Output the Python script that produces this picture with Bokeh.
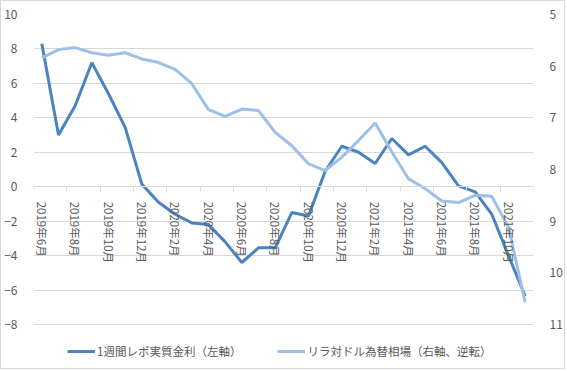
from bokeh.plotting import figure
from bokeh.models import Range1d, LinearAxis, FixedTicker, Legend, LegendItem, ColumnDataSource
from bokeh.embed import file_html
from bokeh.resources import INLINE

months = ["2019年6月", "2019年7月", "2019年8月", "2019年9月", "2019年10月", "2019年11月",
          "2019年12月", "2020年1月", "2020年2月", "2020年3月", "2020年4月", "2020年5月",
          "2020年6月", "2020年7月", "2020年8月", "2020年9月", "2020年10月", "2020年11月",
          "2020年12月", "2021年1月", "2021年2月", "2021年3月", "2021年4月", "2021年5月",
          "2021年6月", "2021年7月", "2021年8月", "2021年9月", "2021年10月", "2021年11月"]
repo_real = [8.3, 3.0, 4.7, 7.2, 5.4, 3.45, 0.15, -0.9, -1.6, -2.1, -2.2, -3.2, -4.4, -3.55, -3.55,
             -1.5, -1.7, 0.9, 2.35, 2.0, 1.35, 2.8, 1.85, 2.35, 1.4, 0.05, -0.3, -1.6, -4.0, -6.35]
lira_usd = [5.84, 5.68, 5.64, 5.74, 5.79, 5.74, 5.86, 5.93, 6.06, 6.34, 6.84, 6.97, 6.83, 6.86, 7.28,
            7.54, 7.89, 8.02, 7.76, 7.44, 7.10, 7.66, 8.18, 8.37, 8.61, 8.64, 8.50, 8.52, 9.12, 10.57]
left_ticks = [-8, -6, -4, -2, 0, 2, 4, 6, 8, 10]
right_ticks = [5, 6, 7, 8, 9, 10, 11]
series_names = ["1週間レポ実質金利（左軸）", "リラ対ドル為替相場（右軸、逆転）"]

idx = list(range(len(months)))
label_pos = idx[::2]
boundaries = [i - 0.5 for i in idx[::2]] + [idx[-1] + 0.5]

FONT = "Noto Sans CJK JP"
GRID = "#D9D9D9"
TXT = "#595959"
DARK = "#4A84C0"
LIGHT = "#9CC0E7"

# layout (pixels): axes span 310 px; a 46 px band under them holds the legend
AXIS_PX = 310.0
LEGEND_BAND_PX = 46.0
left_span = left_ticks[-1] - left_ticks[0]
right_span = right_ticks[-1] - right_ticks[0]
left_pad = LEGEND_BAND_PX / AXIS_PX * left_span
right_pad = LEGEND_BAND_PX / AXIS_PX * right_span

src = ColumnDataSource(dict(x=idx, repo=repo_real, lira=lira_usd))

p = figure(width=565, height=369, output_backend="svg", toolbar_location=None,
           x_range=Range1d(idx[0] - 0.5, idx[-1] + 0.5),
           y_range=Range1d(left_ticks[0] - left_pad, left_ticks[-1]),
           x_axis_location=None, y_axis_location="left",
           min_border_left=32, min_border_right=33, min_border_top=13, min_border_bottom=0,
           background_fill_color="white", border_fill_color="white")
p.styles = {"border": "1px solid #D9D9D9"}
p.outline_line_color = None
p.extra_y_ranges = {"right": Range1d(right_ticks[-1] + right_pad, right_ticks[0])}

# left axis
ya = p.yaxis[0]
ya.ticker = FixedTicker(ticks=left_ticks)
ya.axis_line_color = None
ya.major_tick_line_color = None
ya.minor_tick_line_color = None
ya.major_label_text_font = FONT
ya.major_label_text_font_size = "12px"
ya.major_label_text_color = TXT
ya.major_label_standoff = 10

# right axis
ra = LinearAxis(y_range_name="right", ticker=FixedTicker(ticks=right_ticks))
ra.axis_line_color = None
ra.major_tick_line_color = None
ra.minor_tick_line_color = None
ra.major_label_text_font = FONT
ra.major_label_text_font_size = "12px"
ra.major_label_text_color = TXT
ra.major_label_standoff = 10
p.add_layout(ra, "right")

# grid
p.xgrid.visible = False
p.ygrid.ticker = FixedTicker(ticks=left_ticks)
p.ygrid.grid_line_color = GRID

# category x axis crossing at zero
xa = LinearAxis(fixed_location=0, ticker=FixedTicker(ticks=label_pos, minor_ticks=boundaries))
xa.major_label_overrides = {i: months[i] for i in label_pos}
xa.major_label_orientation = "vertical"
xa.axis_line_color = GRID
xa.major_tick_line_color = None
xa.major_tick_out = 0
xa.minor_tick_line_color = GRID
xa.minor_tick_out = 5
xa.minor_tick_in = 0
xa.major_label_text_font = FONT
xa.major_label_text_font_size = "11.5px"
xa.major_label_text_color = TXT
xa.major_label_standoff = 10
p.add_layout(xa, "below")

r1 = p.line("x", "repo", source=src, line_color=DARK, line_width=3)
r2 = p.line("x", "lira", source=src, line_color=LIGHT, line_width=3, y_range_name="right")

legend = Legend(items=[LegendItem(label=series_names[0], renderers=[r1]),
                       LegendItem(label=series_names[1], renderers=[r2])],
                orientation="horizontal", location=(34, 11))
legend.label_text_font = FONT
legend.label_text_font_size = "11.5px"
legend.label_text_color = TXT
legend.glyph_width = 28
legend.glyph_height = 14
legend.label_height = 14
legend.label_standoff = 2
legend.spacing = 36
legend.padding = 4
legend.margin = 0
legend.border_line_color = None
legend.background_fill_alpha = 0
p.add_layout(legend, "center")

html = file_html(p, INLINE)
html = html.replace("<head>", "<head><style>html,body{margin:0;padding:0;}</style>", 1)
open("out.html", "w").write(html)
